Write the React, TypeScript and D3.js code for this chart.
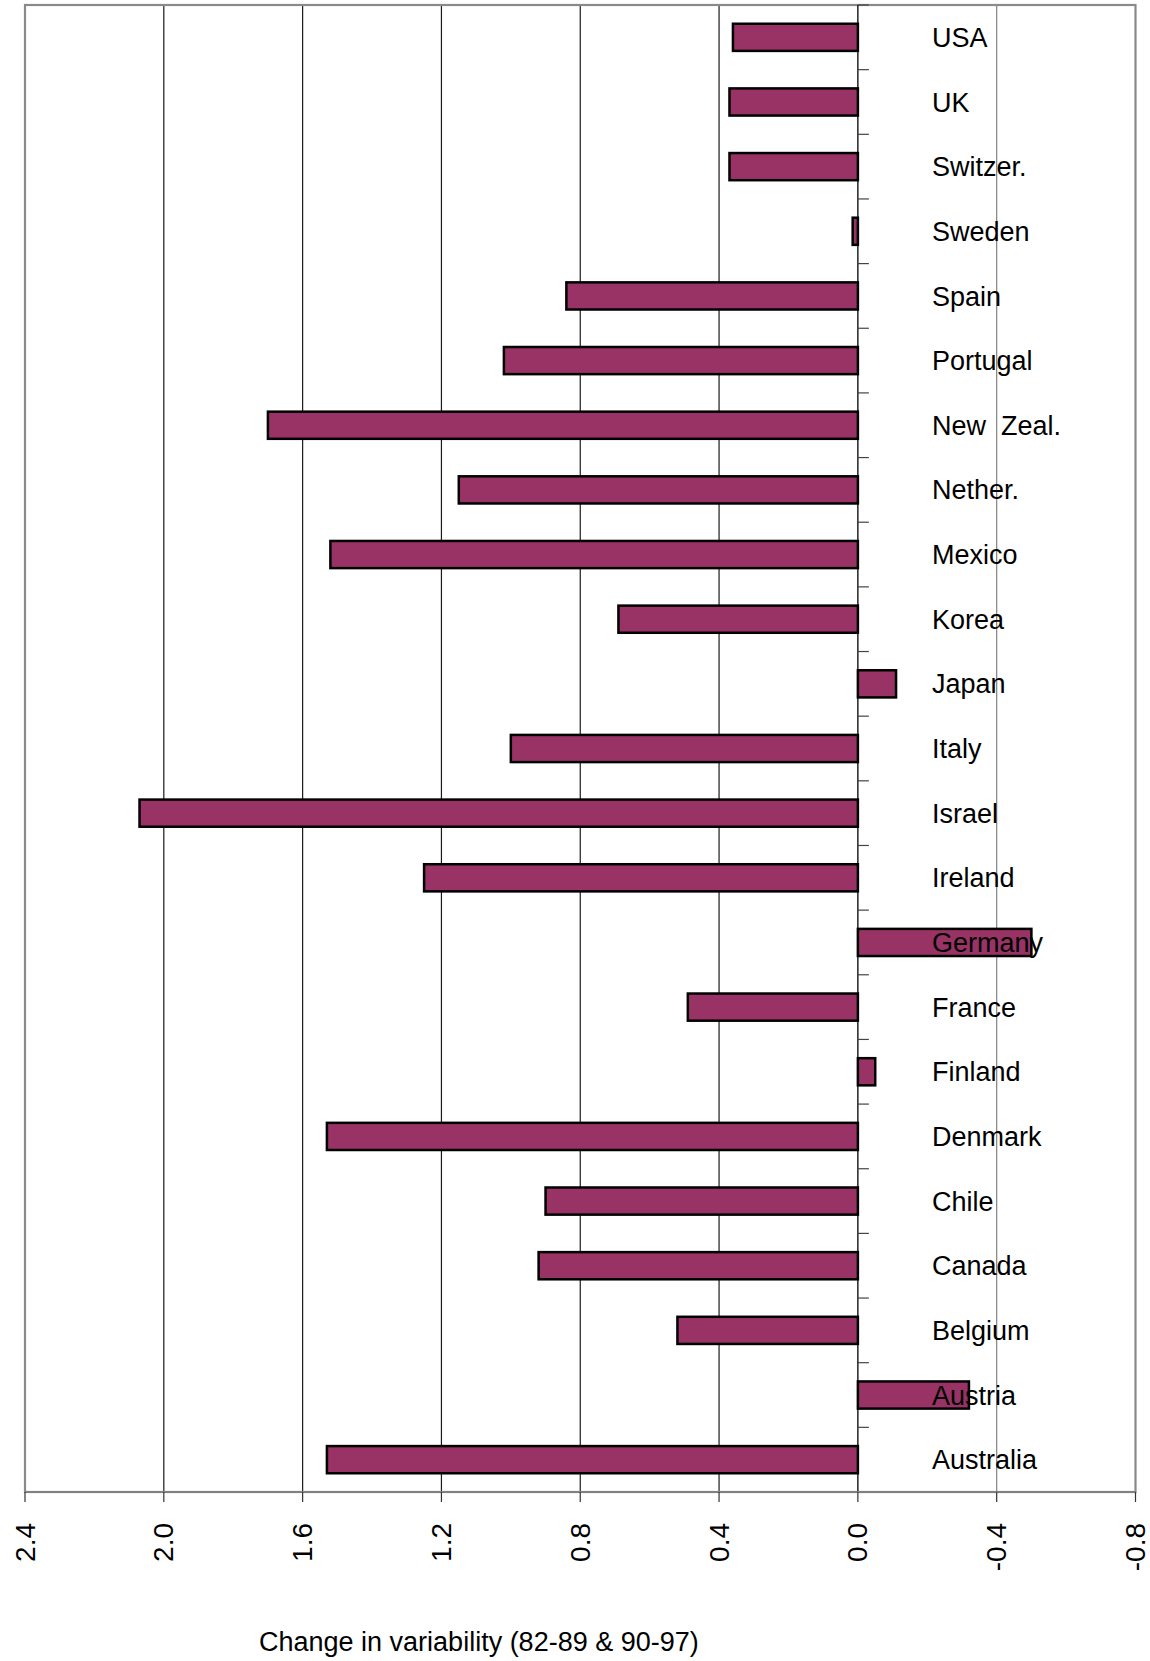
import React from "react";
import * as d3 from "d3";

const countries = [
  "USA", "UK", "Switzer.", "Sweden", "Spain", "Portugal", "New  Zeal.", "Nether.",
  "Mexico", "Korea", "Japan", "Italy", "Israel", "Ireland", "Germany", "France",
  "Finland", "Denmark", "Chile", "Canada", "Belgium", "Austria", "Australia",
];
const values = [
  0.36, 0.37, 0.37, 0.015, 0.84, 1.02, 1.70, 1.15,
  1.52, 0.69, -0.11, 1.00, 2.07, 1.25, -0.50, 0.49,
  -0.05, 1.53, 0.90, 0.92, 0.52, -0.32, 1.53,
];
const xTicks = [2.4, 2.0, 1.6, 1.2, 0.8, 0.4, 0.0, -0.4, -0.8];
const xTitle = "Change in variability (82-89 & 90-97)";

const W = 1150;
const H = 1661;
const left = 25;
const right = 1135.5;
const top = 5;
const bottom = 1492;

export default function App() {
  const x = d3.scaleLinear().domain([2.4, -0.8]).range([left, right]);
  const y = d3
    .scaleBand<string>()
    .domain(countries)
    .range([top, bottom])
    .paddingInner(0.58)
    .paddingOuter(0.29);
  const step = y.step();
  const x0 = x(0);
  const font = "'Liberation Sans', Arial, sans-serif";

  return (
    <svg
      width={W}
      height={H}
      style={{ position: "absolute", left: 0, top: 0, background: "#fff" }}
      fontFamily={font}
    >
      <rect x={0} y={0} width={W} height={H} fill="#fff" />
      {xTicks
        .filter((t) => t !== 0 && t !== 2.4 && t !== -0.8)
        .map((t) => (
          <line
            key={"g" + t}
            x1={x(t)}
            x2={x(t)}
            y1={top}
            y2={bottom}
            stroke={t < 0 ? "#808080" : "#1a1a1a"}
            strokeWidth={1.2}
          />
        ))}
      <rect
        x={left}
        y={top}
        width={right - left}
        height={bottom - top}
        fill="none"
        stroke="#8a8a8a"
        strokeWidth={2.2}
      />
      {countries.map((c, i) => {
        const v = values[i];
        const xa = Math.min(x(v), x0);
        const w = Math.abs(x(v) - x0);
        return (
          <rect
            key={"b" + c}
            x={xa}
            y={y(c)}
            width={w}
            height={y.bandwidth()}
            fill="#993366"
            stroke="#000"
            strokeWidth={2.5}
          />
        );
      })}
      <line x1={x0} x2={x0} y1={top} y2={bottom} stroke="#000" strokeWidth={1.3} />
      {d3.range(countries.length + 1).map((i) => (
        <line
          key={"ct" + i}
          x1={x0}
          x2={x0 + 11}
          y1={top + i * step}
          y2={top + i * step}
          stroke="#444"
          strokeWidth={1.2}
        />
      ))}
      {countries.map((c) => (
        <text
          key={"l" + c}
          x={932}
          y={(y(c) as number) + y.bandwidth() / 2 + 9.6}
          fontSize={27}
          fill="#000"
          style={{ whiteSpace: "pre" }}
        >
          {c}
        </text>
      ))}
      <line x1={left} x2={right} y1={bottom} y2={bottom} stroke="#808080" strokeWidth={2} />
      {xTicks.map((t) => (
        <g key={"xt" + t}>
          <line
            x1={x(t)}
            x2={x(t)}
            y1={bottom}
            y2={bottom + 10}
            stroke="#333"
            strokeWidth={1.2}
          />
          <text
            transform={`translate(${x(t)},${bottom + 31}) rotate(-90)`}
            textAnchor="end"
            dominantBaseline="central"
            fontSize={28}
            fill="#000"
          >
            {t.toFixed(1)}
          </text>
        </g>
      ))}
      <text x={259} y={1651} fontSize={27} fill="#000">
        {xTitle}
      </text>
    </svg>
  );
}
